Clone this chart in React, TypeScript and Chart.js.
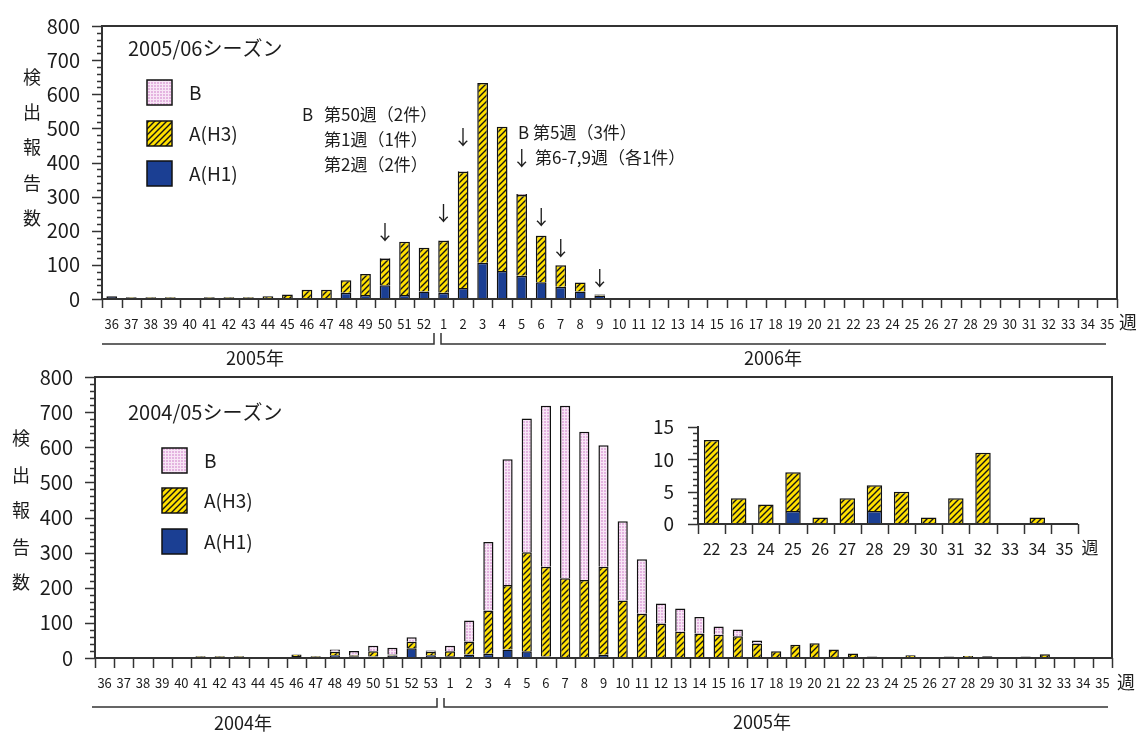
import React, { useEffect, useRef } from 'react';
import { Chart, registerables } from 'chart.js';
Chart.register(...registerables);

// ---------- data ----------
const weeks0506 = ['36','37','38','39','40','41','42','43','44','45','46','47','48','49','50','51','52','1','2','3','4','5','6','7','8','9','10','11','12','13','14','15','16','17','18','19','20','21','22','23','24','25','26','27','28','29','30','31','32','33','34','35'];
const h1_0506 = [8,2,2,2,0,2,2,2,1,2,3,3,18,12,40,12,22, 18,32,106,82,68,49,36,22,10,0,0,0,0,0,0,0,0,0,0,0,0,0,0,0,0,0,0,0,0,0,0,0,0,0,0];
const h3_0506 = [0,3,3,3,0,3,3,3,7,11,24,24,37,61,78,156,128, 153,341,527,423,237,136,63,26,3,0,0,0,0,0,0,0,0,0,0,0,0,0,0,0,0,0,0,0,0,0,0,0,0,0,0];
const b_0506 = [0,0,0,0,0,0,0,0,0,0,0,0,0,0,2,0,0, 1,2,0,0,3,1,1,0,1,0,0,0,0,0,0,0,0,0,0,0,0,0,0,0,0,0,0,0,0,0,0,0,0,0,0];

const weeks0405 = ['36','37','38','39','40','41','42','43','44','45','46','47','48','49','50','51','52','53','1','2','3','4','5','6','7','8','9','10','11','12','13','14','15','16','17','18','19','20','21','22','23','24','25','26','27','28','29','30','31','32','33','34','35'];
const h1_0405 = [0,0,0,0,0,2,2,2,0,0,6,2,8,5,4,7,28,8, 5,10,12,24,19,4,3,3,9,2,2,3,1,0,0,0,0,2,2,0,0,0,0,0,2,0,0,2,0,0,0,0,0,0,0];
const h3_0405 = [0,0,0,0,0,3,3,3,0,0,4,3,10,3,15,3,18,10, 14,37,123,184,282,256,224,219,251,162,124,95,74,70,66,62,41,17,36,42,24,13,4,3,6,1,4,4,5,1,4,11,0,1,0];
const b_0405 = [0,0,0,0,0,0,0,0,0,0,0,0,6,12,16,19,13,3, 16,60,195,358,381,458,491,422,346,225,155,57,66,47,24,19,9,0,0,0,0,0,0,0,0,0,0,0,0,0,0,0,0,0,0];

const weeksInset = ['22','23','24','25','26','27','28','29','30','31','32','33','34','35'];
const h1Inset = [0,0,0,2,0,0,2,0,0,0,0,0,0,0];
const h3Inset = [13,4,3,6,1,4,4,5,1,4,11,0,1,0];

const yTicksMain = [0,100,200,300,400,500,600,700,800];
const yTicksInset = [0,5,10,15];

const legendLabels = ['B', 'A(H3)', 'A(H1)'];
const arrows0506: [string, number][] = [['50',194],['1',252],['2',475],['6',238],['7',148],['9',61]];

// ---------- style ----------
const FONT = '"Noto Sans CJK JP", "Noto Sans", sans-serif';
const TEXT = '#1c1c1c';
const AXIS = '#333';
const H1_COLOR = '#1b3f93';
const H3_COLOR = '#ffe000';

function makePatterns(ctx: CanvasRenderingContext2D) {
  const hc = document.createElement('canvas');
  hc.width = 6; hc.height = 6;
  const g = hc.getContext('2d')!;
  g.fillStyle = H3_COLOR; g.fillRect(0, 0, 6, 6);
  g.strokeStyle = '#151515'; g.lineWidth = 1.4;
  g.beginPath();
  g.moveTo(-1, 7); g.lineTo(7, -1);
  g.moveTo(-1, 1); g.lineTo(1, -1);
  g.moveTo(5, 7); g.lineTo(7, 5);
  g.stroke();
  const pc = document.createElement('canvas');
  pc.width = 3; pc.height = 3;
  const p = pc.getContext('2d')!;
  p.fillStyle = '#e4b4e0'; p.fillRect(0, 0, 3, 3);
  p.fillStyle = '#f8e6f6'; p.fillRect(0, 0, 3, 1); p.fillRect(0, 0, 1, 3);
  return { h3: ctx.createPattern(hc, 'repeat')!, b: ctx.createPattern(pc, 'repeat')! };
}

const nz = (a: number[]) => a.map(v => (v === 0 ? null : v));

function txt(ctx: CanvasRenderingContext2D, s: string, x: number, y: number, size: number, align: CanvasTextAlign = 'left') {
  ctx.save();
  ctx.font = `${size}px ${FONT}`;
  ctx.fillStyle = TEXT;
  ctx.textAlign = align;
  ctx.textBaseline = 'middle';
  ctx.fillText(s, x, y);
  ctx.restore();
}

function line(ctx: CanvasRenderingContext2D, pts: number[][], w = 1.5) {
  ctx.save();
  ctx.strokeStyle = AXIS; ctx.lineWidth = w;
  ctx.beginPath();
  pts.forEach((p, i) => (i === 0 ? ctx.moveTo(p[0], p[1]) : ctx.lineTo(p[0], p[1])));
  ctx.stroke();
  ctx.restore();
}

function drawYTicks(chart: any, minor: number, major: number, majLen: number, minLen: number) {
  const ctx = chart.ctx; const y = chart.scales.y; const left = chart.chartArea.left;
  ctx.save(); ctx.strokeStyle = AXIS; ctx.lineWidth = 1.5;
  for (let v = y.min; v <= y.max + 1e-6; v += minor) {
    const py = Math.round(y.getPixelForValue(v)) + 0.5;
    const len = Math.round(v) % major === 0 ? majLen : minLen;
    ctx.beginPath(); ctx.moveTo(left - len, py); ctx.lineTo(left, py); ctx.stroke();
  }
  ctx.restore();
}

function drawXTicks(chart: any, len: number) {
  const ctx = chart.ctx; const a = chart.chartArea; const n = chart.data.labels.length;
  const w = (a.right - a.left) / n;
  ctx.save(); ctx.strokeStyle = AXIS; ctx.lineWidth = 1.5;
  for (let i = 0; i <= n; i++) {
    const px = Math.round(a.left + i * w) + 0.5;
    ctx.beginPath(); ctx.moveTo(px, a.bottom); ctx.lineTo(px, a.bottom + len); ctx.stroke();
  }
  ctx.restore();
}

function drawLegend(ctx: CanvasRenderingContext2D, x: number, ys: number[], labelX: number, fills: any[]) {
  ys.forEach((y, i) => {
    ctx.save();
    ctx.fillStyle = fills[i];
    ctx.fillRect(x, y, 25, 25);
    ctx.strokeStyle = '#111'; ctx.lineWidth = 1.5;
    ctx.strokeRect(x, y, 25, 25);
    ctx.restore();
    txt(ctx, legendLabels[i], labelX, y + 13, 19);
  });
}

function drawYTitle(ctx: CanvasRenderingContext2D, x: number, ys: number[]) {
  const chars = ['検', '出', '報', '告', '数'];
  chars.forEach((c, i) => txt(ctx, c, x, ys[i], 18, 'center'));
}

function mainOptions(geom: any, labelPad: number, yMax: number, yTicks: number[], yFont: number, xFont: number, yPad: number) {
  return {
    responsive: false,
    animation: false as const,
    events: [] as any[],
    layout: { padding: geom.padding },
    plugins: { legend: { display: false }, tooltip: { enabled: false } },
    scales: {
      x: {
        stacked: true,
        offset: true,
        afterFit: (s: any) => { s.height = geom.xh; },
        grid: { display: false },
        border: { display: false },
        ticks: { autoSkip: false, maxRotation: 0, minRotation: 0, padding: labelPad, color: TEXT, font: { family: FONT, size: xFont } },
      },
      y: {
        stacked: true,
        min: 0, max: yMax,
        afterFit: (s: any) => { s.width = geom.yw; },
        afterBuildTicks: (s: any) => { s.ticks = yTicks.map(v => ({ value: v })); },
        grid: { display: false },
        border: { display: false },
        ticks: { padding: yPad, color: TEXT, font: { family: FONT, size: yFont } },
      },
    },
  };
}

export default function App() {
  const topRef = useRef<HTMLCanvasElement>(null);
  const botRef = useRef<HTMLCanvasElement>(null);
  const insRef = useRef<HTMLCanvasElement>(null);

  useEffect(() => {
    const charts: Chart[] = [];

    // ---- top chart 2005/06 ----
    const tctx = topRef.current!.getContext('2d')!;
    const tp = makePatterns(tctx);
    const topPlugin = {
      id: 'decorTop',
      afterDatasetsDraw(chart: any) {
        const { ctx, chartArea: a } = chart;
        ctx.save(); ctx.strokeStyle = AXIS; ctx.lineWidth = 2;
        ctx.strokeRect(a.left, a.top, a.right - a.left, a.bottom - a.top);
        ctx.restore();
        drawYTicks(chart, 20, 100, 10, 5);
        drawXTicks(chart, 9);
      },
      afterDraw(chart: any) {
        const ctx = chart.ctx; const xs = chart.scales.x; const ys = chart.scales.y;
        txt(ctx, '2005/06シーズン', 128, 48, 20);
        drawLegend(ctx, 147, [80, 121, 161], 189, [tp.b, tp.h3, H1_COLOR]);
        drawYTitle(ctx, 32, [77, 112, 147, 183, 218]);
        txt(ctx, 'B', 302, 115, 17);
        txt(ctx, '第50週（2件）', 324, 115, 17);
        txt(ctx, '第1週（1件）', 324, 140, 17);
        txt(ctx, '第2週（2件）', 324, 165, 17);
        txt(ctx, 'B', 518, 133, 17);
        txt(ctx, '第5週（3件）', 533, 133, 17);
        txt(ctx, '↓', xs.getPixelForValue(weeks0506.indexOf('5')), 158, 20, 'center');
        txt(ctx, '第6-7,9週（各1件）', 535, 158, 17);
        arrows0506.forEach(([w, v]) => {
          txt(ctx, '↓', xs.getPixelForValue(weeks0506.indexOf(w)), ys.getPixelForValue(v), 20, 'center');
        });
        txt(ctx, '週', 1128, 322, 18, 'center');
        line(ctx, [[102, 344], [434, 344], [434, 333]]);
        line(ctx, [[441, 333], [441, 344], [1106, 344]]);
        txt(ctx, '2005年', 255, 358, 18, 'center');
        txt(ctx, '2006年', 773, 358, 18, 'center');
      },
    };
    charts.push(new Chart(topRef.current!, {
      type: 'bar',
      data: {
        labels: weeks0506,
        datasets: [
          { label: 'A(H1)', data: nz(h1_0506), backgroundColor: H1_COLOR, borderColor: '#111', borderWidth: 1.5, barPercentage: 0.55, categoryPercentage: 1 },
          { label: 'A(H3)', data: nz(h3_0506), backgroundColor: tp.h3, borderColor: '#111', borderWidth: 1.5, barPercentage: 0.55, categoryPercentage: 1 },
          { label: 'B', data: nz(b_0506), backgroundColor: tp.b, borderColor: '#111', borderWidth: 1.5, barPercentage: 0.55, categoryPercentage: 1 },
        ],
      },
      options: mainOptions({ padding: { left: 0, top: 23, right: 19, bottom: 394 }, xh: 40, yw: 102 }, 9, 800, yTicksMain, 20, 13, 14) as any,
      plugins: [topPlugin],
    }));

    // ---- bottom chart 2004/05 ----
    const bctx = botRef.current!.getContext('2d')!;
    const bp = makePatterns(bctx);
    const botPlugin = {
      id: 'decorBot',
      afterDatasetsDraw(chart: any) {
        const { ctx, chartArea: a } = chart;
        ctx.save(); ctx.strokeStyle = AXIS; ctx.lineWidth = 2;
        ctx.strokeRect(a.left, a.top, a.right - a.left, a.bottom - a.top);
        ctx.restore();
        drawYTicks(chart, 20, 100, 10, 5);
        drawXTicks(chart, 10);
      },
      afterDraw(chart: any) {
        const ctx = chart.ctx;
        txt(ctx, '2004/05シーズン', 128, 412, 20);
        drawLegend(ctx, 162, [448, 488, 529], 204, [bp.b, bp.h3, H1_COLOR]);
        drawYTitle(ctx, 21, [438, 475, 510, 547, 582]);
        txt(ctx, '週', 1126, 682, 18, 'center');
        line(ctx, [[92, 707], [437, 707], [437, 698]]);
        line(ctx, [[444, 698], [444, 707], [1108, 707]]);
        txt(ctx, '2004年', 243, 723, 18, 'center');
        txt(ctx, '2005年', 762, 722, 18, 'center');
      },
    };
    charts.push(new Chart(botRef.current!, {
      type: 'bar',
      data: {
        labels: weeks0405,
        datasets: [
          { label: 'A(H1)', data: nz(h1_0405), backgroundColor: H1_COLOR, borderColor: '#111', borderWidth: 1.5, barPercentage: 0.53, categoryPercentage: 1 },
          { label: 'A(H3)', data: nz(h3_0405), backgroundColor: bp.h3, borderColor: '#111', borderWidth: 1.5, barPercentage: 0.53, categoryPercentage: 1 },
          { label: 'B', data: nz(b_0405), backgroundColor: bp.b, borderColor: '#111', borderWidth: 1.5, barPercentage: 0.53, categoryPercentage: 1 },
        ],
      },
      options: mainOptions({ padding: { left: 0, top: 377, right: 24, bottom: 35 }, xh: 40, yw: 95 }, 9, 800, yTicksMain, 20, 13, 14) as any,
      plugins: [botPlugin],
    }));

    // ---- inset (weeks 22-35 of 2005) ----
    const ictx = insRef.current!.getContext('2d')!;
    const ip = makePatterns(ictx);
    const insPlugin = {
      id: 'decorInset',
      afterDatasetsDraw(chart: any) {
        const { ctx, chartArea: a } = chart;
        line(ctx, [[a.left, a.top - 1], [a.left, a.bottom], [a.right, a.bottom]], 2);
        drawYTicks(chart, 1, 5, 10, 5);
        drawXTicks(chart, 10);
      },
      afterDraw(chart: any) {
        txt(chart.ctx, '週', 1090, 548, 17, 'center');
      },
    };
    charts.push(new Chart(insRef.current!, {
      type: 'bar',
      data: {
        labels: weeksInset,
        datasets: [
          { label: 'A(H1)', data: nz(h1Inset), backgroundColor: H1_COLOR, borderColor: '#111', borderWidth: 1.5, barPercentage: 0.57, categoryPercentage: 1 },
          { label: 'A(H3)', data: nz(h3Inset), backgroundColor: ip.h3, borderColor: '#111', borderWidth: 1.5, barPercentage: 0.57, categoryPercentage: 1 },
        ],
      },
      options: mainOptions({ padding: { left: 640, top: 427, right: 58, bottom: 164 }, xh: 45, yw: 58 }, 7, 15, yTicksInset, 19, 16, 16) as any,
      plugins: [insPlugin],
    }));

    return () => charts.forEach(c => c.destroy());
  }, []);

  const cs: React.CSSProperties = { position: 'absolute', left: 0, top: 0 };
  return (
    <div style={{ position: 'absolute', left: 0, top: 0, width: 1136, height: 733, background: '#fff', overflow: 'hidden' }}>
      <canvas ref={topRef} width={1136} height={733} style={cs} />
      <canvas ref={botRef} width={1136} height={733} style={cs} />
      <canvas ref={insRef} width={1136} height={733} style={cs} />
    </div>
  );
}
